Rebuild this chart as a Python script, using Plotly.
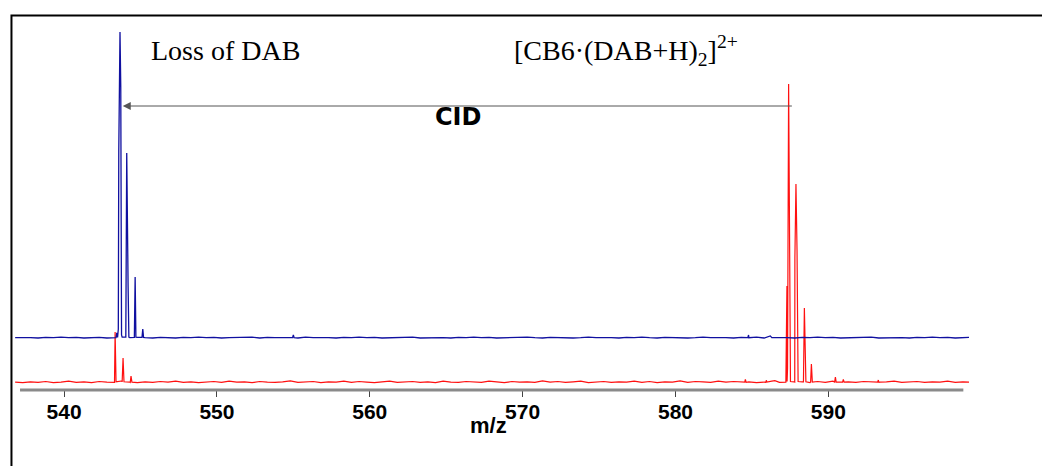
import numpy as np
import plotly.graph_objects as go

# ---------------- data ----------------
# baseline noise (relative intensity units), sampled every noise_step m/z from noise_start
noise_start = 536.8
noise_step = 0.5
red_noise = [0.3, 0.1, 0.4, 0.2, 0.5, 0.1, 0.3, 0.6, 0.2, 0.4,
             0.1, 0.5, 0.3, 0.2, 0.7, 0.3, 0.1, 0.4, 0.2, 0.5,
             0.3, 0.6, 0.2, 0.4, 0.1, 0.3, 0.5, 0.2, 0.6, 0.3,
             0.4, 0.1, 0.5, 0.3, 0.2, 0.4, 0.7, 0.2, 0.3, 0.5,
             0.1, 0.4, 0.3, 0.6, 0.2, 0.5, 0.3, 0.1, 0.4, 0.6,
             0.2, 0.3, 0.5, 0.2, 0.4, 0.1, 0.6, 0.3, 0.2, 0.5,
             0.4, 0.2, 0.6, 0.3, 0.1, 0.5, 0.3, 0.4, 0.2, 0.7,
             0.3, 0.5, 0.2, 0.4, 0.6, 0.1, 0.3, 0.5, 0.2, 0.4,
             0.3, 0.6, 0.2, 0.5, 0.1, 0.4, 0.3, 0.7, 0.2, 0.5,
             0.4, 0.2, 0.6, 0.3, 0.5, 0.2, 0.4, 0.1, 0.3, 0.6,
             0.2, 0.5, 0.3, 0.4, 0.1, 0.5, 0.2, 0.6, 0.3, 0.4,
             0.2, 0.5, 0.3, 0.1, 0.4, 0.6, 0.2, 0.3, 0.5, 0.2,
             0.4, 0.3, 0.6, 0.2, 0.4, 0.3]
blue_noise = [0.1, 0.2, 0.1, 0.0, 0.2, 0.1, 0.3, 0.1, 0.2, 0.0,
              0.1, 0.2, 0.0, 0.1, 0.3, 0.1, 0.2, 0.1, 0.0, 0.2,
              0.1, 0.0, 0.2, 0.1, 0.3, 0.1, 0.2, 0.0, 0.1, 0.2,
              0.1, 0.3, 0.0, 0.2, 0.1, 0.1, 0.2, 0.0, 0.3, 0.1,
              0.2, 0.1, 0.0, 0.2, 0.1, 0.3, 0.1, 0.2, 0.0, 0.1,
              0.2, 0.1, 0.3, 0.0, 0.1, 0.2, 0.1, 0.0, 0.2, 0.1,
              0.3, 0.1, 0.2, 0.0, 0.1, 0.2, 0.1, 0.3, 0.1, 0.0,
              0.2, 0.1, 0.2, 0.0, 0.1, 0.3, 0.1, 0.2, 0.1, 0.0,
              0.2, 0.1, 0.3, 0.1, 0.0, 0.2, 0.1, 0.2, 0.0, 0.1,
              0.3, 0.1, 0.2, 0.1, 0.0, 0.2, 0.1, 0.3, 0.0, 0.1,
              0.2, 0.1, 0.0, 0.2, 0.1, 0.3, 0.1, 0.2, 0.0, 0.1,
              0.2, 0.1, 0.3, 0.0, 0.1, 0.2, 0.1, 0.0, 0.2, 0.1,
              0.3, 0.1, 0.2, 0.0, 0.1, 0.2]

# profile points of the peaks (m/z, relative intensity)
red_peak_mz = [543.28, 543.34, 543.40, 543.80, 543.86, 543.92, 544.33, 544.38, 544.44,
               584.53, 584.57, 584.62, 585.90, 585.94, 585.98, 586.50,
               587.22, 587.29, 587.33, 587.40, 587.45, 587.52,
               587.76, 587.81, 587.88, 587.95, 588.02,
               588.37, 588.43, 588.48, 588.53,
               588.84, 588.89, 588.95,
               590.41, 590.46, 590.51, 590.93, 590.98, 591.03,
               593.22, 593.27, 593.32]
red_peak_int = [0.3, 17.0, 0.4, 0.3, 8.3, 0.4, 0.2, 2.3, 0.3,
                0.3, 1.2, 0.2, 0.2, 0.9, 0.3, 0.8,
                0.3, 32.3, 5.0, 99.7, 50.0, 0.5,
                0.4, 41.7, 66.3, 44.3, 0.5,
                0.4, 25.0, 8.0, 0.4,
                0.3, 6.3, 0.3,
                0.3, 2.0, 0.3, 0.3, 1.2, 0.3,
                0.3, 1.0, 0.3]

blue_peak_mz = [543.40, 543.45, 543.50, 543.55, 543.58, 543.66, 543.71, 543.76,
                544.04, 544.10, 544.19, 544.24,
                544.60, 544.65, 544.70,
                545.10, 545.15, 545.20,
                554.95, 555.00, 555.05,
                584.73, 584.78, 584.83, 586.20]
blue_peak_int = [0.1, 1.7, 0.2, 3.0, 62.7, 102.0, 83.7, 1.0,
                 0.3, 61.7, 17.0, 0.3,
                 0.2, 20.3, 0.3,
                 0.2, 3.0, 0.2,
                 0.1, 1.0, 0.1,
                 0.1, 1.0, 0.1, 0.7]
blue_offset = 15.0

tick_values = [540, 550, 560, 570, 580, 590]
tick_labels = ["540", "550", "560", "570", "580", "590"]

# ---------------- build traces ----------------
def build(noise, pk_mz, pk_int):
    grid = noise_start + noise_step * np.arange(len(noise))
    mz = np.concatenate([grid, np.array(pk_mz)])
    it = np.concatenate([np.array(noise), np.array(pk_int)])
    order = np.argsort(mz, kind="stable")
    return mz[order], it[order]

red_x, red_y = build(red_noise, red_peak_mz, red_peak_int)
blue_x, blue_y = build(blue_noise, blue_peak_mz, blue_peak_int)

fig = go.Figure()
fig.add_trace(go.Scatter(x=red_x, y=red_y, mode="lines",
                         line=dict(color="#ff1010", width=1.2), hoverinfo="skip"))
fig.add_trace(go.Scatter(x=blue_x, y=blue_y + blue_offset, mode="lines",
                         line=dict(color="#1010a0", width=1.3), hoverinfo="skip"))

serif = "Liberation Serif, Times New Roman, serif"
sans = "Liberation Sans, Arial, sans-serif"

fig.update_layout(
    width=1050, height=466,
    margin=dict(l=5, r=89, t=7, b=84),
    paper_bgcolor="white", plot_bgcolor="white",
    showlegend=False,
    xaxis=dict(range=[536.66, 599.2], showgrid=False, zeroline=False, showline=False,
               ticks="outside", ticklen=6, tickwidth=1, tickcolor="#444",
               tickvals=tick_values, ticktext=tick_labels, ticklabelstandoff=-3,
               tickfont=dict(family=sans, size=21, color="black", weight="bold")),
    yaxis=dict(range=[-2.333, 122.667], visible=False),
    shapes=[
        dict(type="line", xref="x", yref="paper", x0=537.12, x1=598.83, y0=0, y1=0,
             line=dict(color="#8a8a8a", width=3)),
        dict(type="rect", xref="paper", yref="paper", x0=-0.0016, x1=1.3, y0=0.9987, y1=-0.6,
             line=dict(color="black", width=2), fillcolor="rgba(0,0,0,0)"),
    ],
    annotations=[
        dict(x=543.84, y=92.33, ax=587.71, ay=92.33, xref="x", yref="y", axref="x", ayref="y",
             text="", showarrow=True, arrowhead=2, arrowsize=1.6, arrowwidth=1,
             arrowcolor="#555", standoff=0),
        dict(x=565.79, y=88.67, xref="x", yref="y", text="CID", showarrow=False,
             font=dict(family="DejaVu Sans, sans-serif", size=24, color="black", weight="bold")),
        dict(x=545.57, y=111.0, xref="x", yref="y", text="Loss of DAB", showarrow=False,
             xanchor="left", yanchor="middle",
             font=dict(family=serif, size=28, color="black")),
        dict(x=569.32, y=111.0, xref="x", yref="y",
             text="[CB6·(DAB+H)<sub>2</sub>]<sup>2+</sup>", showarrow=False,
             xanchor="left", yanchor="middle",
             font=dict(family=serif, size=28, color="black")),
        dict(x=567.75, y=0, xref="x", yref="paper", text="m/z", showarrow=False,
             xanchor="center", yanchor="middle", yshift=-35,
             font=dict(family=sans, size=22, color="black", weight="bold")),
    ],
)

fig.write_html("out.html")
